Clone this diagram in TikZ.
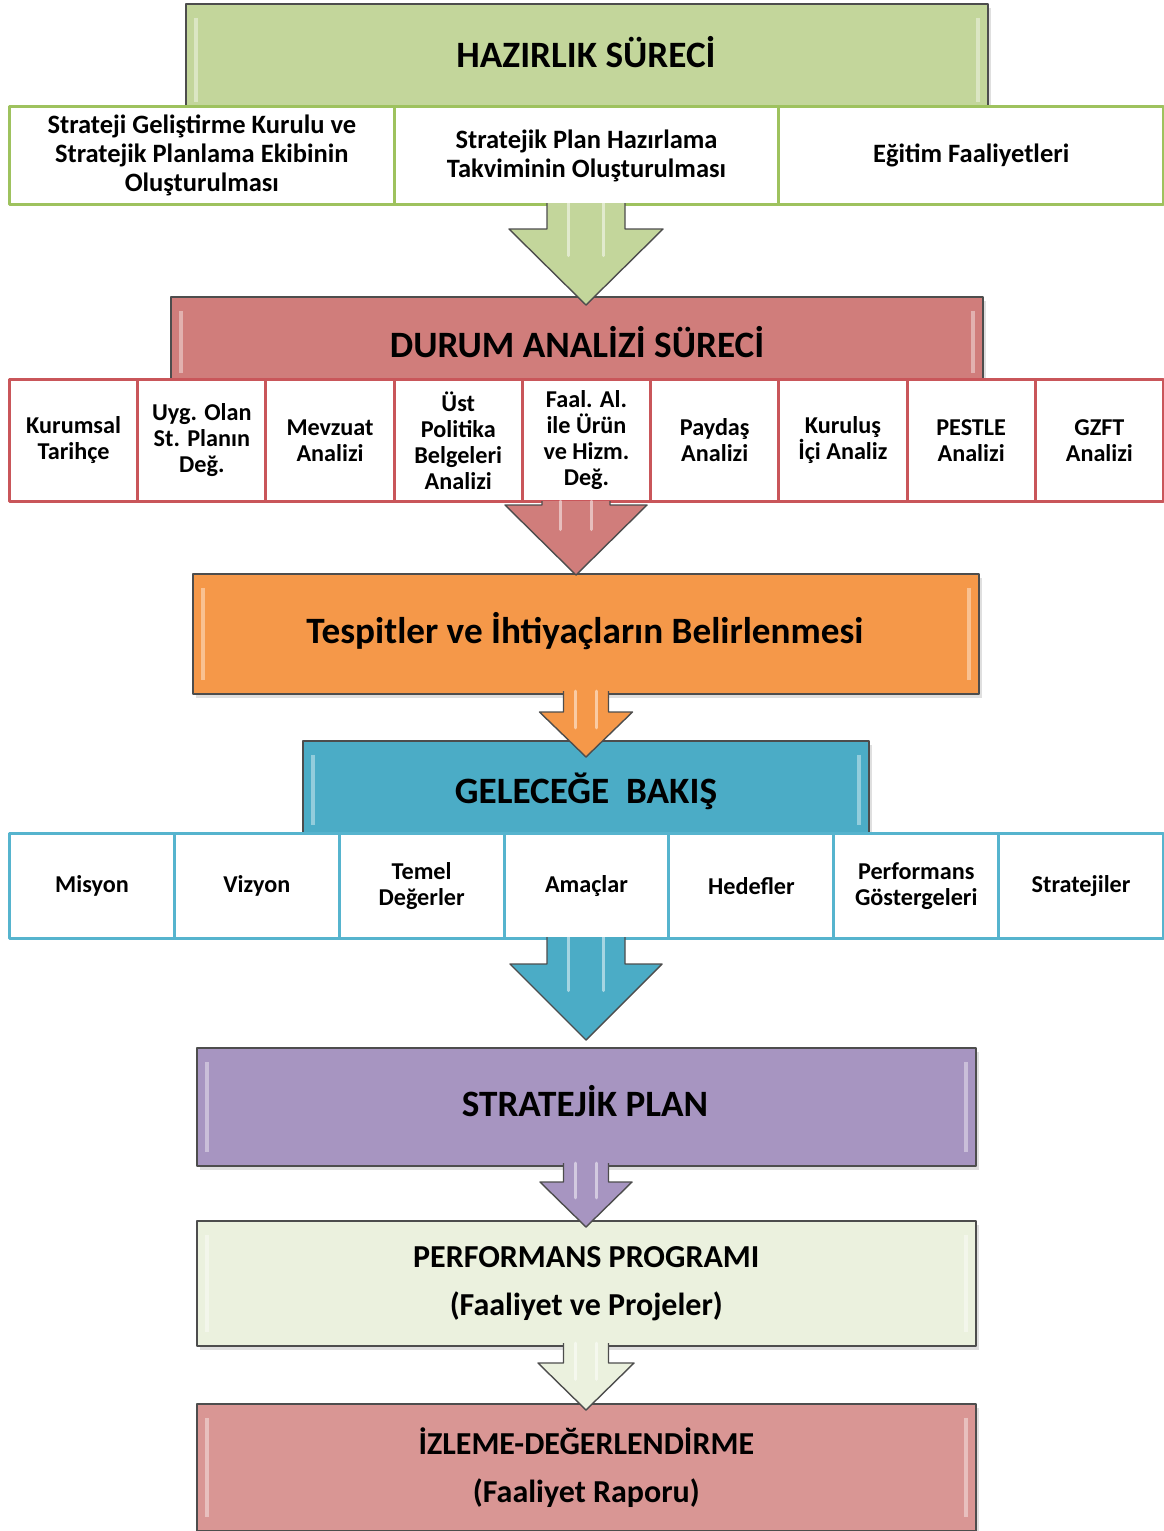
\documentclass[tikz,border=0pt]{standalone}
\usepackage{fontspec}
\setmainfont{Carlito}
\usepackage{tikz}
\usetikzlibrary{shadows}
\definecolor{hazfill}{HTML}{C3D69B}
\definecolor{hazline}{HTML}{9EC25E}
\definecolor{durfill}{HTML}{D07D7B}
\definecolor{durline}{HTML}{C9565A}
\definecolor{tesfill}{HTML}{F59849}
\definecolor{gelfill}{HTML}{4BACC6}
\definecolor{gelline}{HTML}{56B4CE}
\definecolor{strfill}{HTML}{A795C1}
\definecolor{perfill}{HTML}{EBF1DE}
\definecolor{izlfill}{HTML}{D99694}
\definecolor{edgegray}{HTML}{4D4D4D}
% block arrow: top point, shaft length, half shaft, half head, head length, fill
\newcommand{\blockarrow}[6]{%
\filldraw[arrowline,fill=#6] (#1) ++(#3,0) -- ++(0,#2) -- ++(#4-#3,0) -- ++(-#4,#5) -- ++(-#4,-#5) -- ++(#4-#3,0) -- ++(0,-#2);
\draw[shine] (#1) ++(-0.45*#3,0) -- ++(0,{#2+0.35*#5});
\draw[shine] (#1) ++(0.45*#3,0) -- ++(0,{#2+0.35*#5});}

\begin{document}
\begin{tikzpicture}[x=1pt,y=-1pt,line join=round,
  bevel/.style={path picture={
    \draw[white,opacity=.4,line width=4pt] ([xshift=10pt,yshift=-14pt]path picture bounding box.north west) -- ([xshift=10pt,yshift=14pt]path picture bounding box.south west);
    \draw[white,opacity=.4,line width=4pt] ([xshift=-10pt,yshift=-14pt]path picture bounding box.north east) -- ([xshift=-10pt,yshift=14pt]path picture bounding box.south east);}},
  bigbox/.style={draw=edgegray,line width=1.6pt,anchor=north west,inner sep=0pt,bevel,
    drop shadow={opacity=.25,shadow xshift=3pt,shadow yshift=-4pt}},
  cellrow/.style={draw=#1,line width=3pt,fill=white,anchor=north west,align=center,inner sep=1pt},
  titletext/.style={anchor=base,font=\fontsize{37.2}{44}\selectfont\bfseries},
  rowAtext/.style={font=\fontsize{26.5}{29}\selectfont\bfseries},
  rowBtext/.style={font=\fontsize{24.2}{26}\selectfont\bfseries},
  lowtext/.style={align=center,font=\fontsize{32}{48}\selectfont\bfseries},
  arrowline/.style={draw=edgegray,line width=1.4pt},
  shine/.style={white,opacity=.5,line width=3pt,line cap=round}]
\useasboundingbox (0,0) rectangle (1164,1531);

%% main boxes
\node[bigbox,fill=hazfill,minimum width=802pt,minimum height=112pt] (hazirlik) at (185,3) {};
\node[bigbox,fill=durfill,minimum width=812pt,minimum height=90pt] (durum) at (170,296) {};
\node[bigbox,fill=tesfill,minimum width=786pt,minimum height=120pt] (tespit) at (192,573) {};
\node[bigbox,fill=gelfill,minimum width=566pt,minimum height=98pt] (gelecek) at (302,740) {};
\node[bigbox,fill=strfill,minimum width=779pt,minimum height=118pt] (plan) at (196,1047) {};
\node[bigbox,fill=perfill,minimum width=779pt,minimum height=125pt,lowtext] (perf) at (196,1220) {PERFORMANS PROGRAMI\\(Faaliyet ve Projeler)};
\node[bigbox,fill=izlfill,minimum width=779pt,minimum height=127pt,lowtext] (izleme) at (196,1403) {İZLEME-DEĞERLENDİRME\\(Faaliyet Raporu)};

\node[titletext] (haztitle) at (586,67) {HAZIRLIK SÜRECİ};
\node[titletext] (durtitle) at (577,357) {DURUM ANALİZİ SÜRECİ};
\node[titletext] (testitle) at (585,643) {Tespitler ve İhtiyaçların Belirlenmesi};
\node[titletext] (geltitle) at (586,803) {GELECEĞE\ \ BAKIŞ};
\node[titletext] (plantitle) at (585,1116) {STRATEJİK PLAN};

%% rows
\foreach \txt [count=\i from 0] in {{Strateji Geliştirme Kurulu ve\\Stratejik Planlama Ekibinin\\Oluşturulması},{Stratejik Plan Hazırlama\\Takviminin Oluşturulması},{Eğitim Faaliyetleri}}
  \node[cellrow=hazline,rowAtext,minimum width=384.7pt,minimum height=98pt] (hz\i) at ({8+384.67*\i},105) {\txt};
\foreach \txt [count=\i from 0] in {{Kurumsal\\Tarihçe},{Uyg. Olan\\St. Planın\\Değ.},{Mevzuat\\Analizi},{Üst\\Politika\\Belgeleri\\Analizi},{Faal. Al.\\ile Ürün\\ve Hizm.\\Değ.},{Paydaş\\Analizi},{Kuruluş\\İçi Analiz},{PESTLE\\Analizi},{GZFT\\Analizi}}
  \node[cellrow=durline,rowBtext,minimum width=128.2pt,minimum height=122pt] (du\i) at ({8+128.22*\i},378) {\txt};
\foreach \txt [count=\i from 0] in {Misyon,Vizyon,{Temel\\Değerler},Amaçlar,Hedefler,{Performans\\Göstergeleri},Stratejiler}
  \node[cellrow=gelline,rowBtext,minimum width=164.9pt,minimum height=105pt] (ge\i) at ({8+164.86*\i},832) {\txt};

%% arrows
\coordinate (a1) at (586,203);
\coordinate (a2) at (576,501);
\coordinate (a3) at (586,691);
\coordinate (a4) at (586,937);
\coordinate (a5) at (586,1163);
\coordinate (a6) at (586,1343);
\blockarrow{a1}{26}{39}{77}{76}{hazfill}
\blockarrow{a2}{4}{34}{71}{70}{durfill}
\blockarrow{a3}{21}{22.5}{46.5}{45}{tesfill}
\blockarrow{a4}{27}{39}{76}{76}{gelfill}
\blockarrow{a5}{19}{22.5}{46}{45}{strfill}
\blockarrow{a6}{20}{22.5}{48}{47}{perfill}

\end{tikzpicture}
\end{document}
